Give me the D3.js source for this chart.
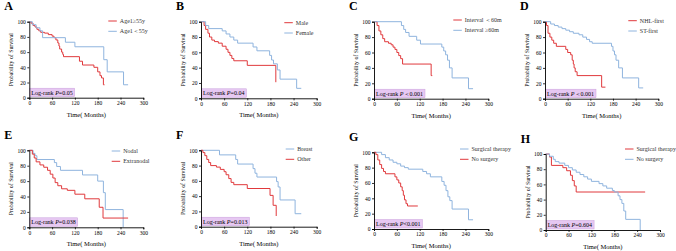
<!DOCTYPE html>
<html>
<head>
<meta charset="utf-8">
<script src="https://cdn.jsdelivr.net/npm/d3@7"></script>
<style>
  body { margin: 0; background: #fff; }
  svg { font-family: "Liberation Serif", "DejaVu Serif", serif; }
</style>
</head>
<body>
<svg id="km" width="676" height="251"></svg>
<script>
// ---- data (time in months, survival in %) ----
var xTicks = [0, 60, 120, 180, 240, 300],
    yTicks = [0, 20, 40, 60, 80, 100];

var ageOld = [[0,100],[5,98],[10,95],[15,93],[20,90],[25,88],[30,86],[40,85],[50,83],[60,81],[65,79],[70,76],[75,72],[78,68],[80,64],[85,60],[88,57],[90,54],[132,48],[140,43],[170,40],[180,34],[186,29],[190,26],[195,17],[198,17]];
var ageYoung = [[0,100],[8,96],[18,92],[28,88],[35,79],[95,73],[120,67],[196,50],[205,34],[248,17],[260,17]];

var male = [[0,100],[8,95],[12,90],[18,85],[22,80],[28,76],[35,74],[45,72],[55,68],[65,64],[70,60],[75,56],[80,52],[85,49],[120,43],[194,21]];
var female = [[0,100],[12,95],[20,91],[55,88],[65,84],[75,80],[85,76],[95,72],[135,67],[145,62],[178,56],[183,50],[188,45],[198,37],[205,25],[248,13],[260,13]];

var intShort = [[0,100],[8,95],[13,88],[18,83],[23,78],[28,74],[38,72],[45,70],[50,67],[55,64],[60,60],[65,56],[70,52],[75,45],[150,30],[153,30]];
var intLong = [[0,100],[72,95],[78,90],[83,86],[92,81],[112,76],[122,71],[178,67],[183,62],[188,57],[193,50],[198,40],[205,27],[248,13],[260,13]];

var nhlFirst = [[0,100],[4,95],[8,85],[13,80],[18,76],[23,72],[30,68],[55,64],[60,60],[68,57],[72,50],[75,45],[77,40],[80,35],[85,30],[150,15],[160,15]];
var stFirst = [[0,100],[15,97],[25,95],[35,93],[45,91],[55,89],[65,87],[75,85],[90,83],[100,80],[110,77],[118,74],[125,72],[176,68],[180,62],[184,57],[188,50],[195,40],[205,27],[248,14],[260,14]];

var nodal = [[0,100],[10,96],[15,93],[20,88],[66,84],[72,79],[82,74],[140,68],[180,60],[195,45],[200,23],[247,0]];
var extranodal = [[0,100],[8,95],[13,90],[18,85],[28,81],[38,78],[48,74],[55,69],[62,64],[68,58],[75,54],[85,50],[100,48],[120,43],[146,37],[184,26],[194,12],[260,12]];

var breast = [[0,100],[48,94],[90,88],[95,82],[135,76],[140,70],[145,65],[196,59],[200,52],[205,35],[244,17],[260,17]];
var other = [[0,100],[5,97],[10,93],[15,88],[20,84],[25,80],[40,78],[50,75],[60,72],[65,68],[72,63],[78,58],[85,55],[120,50],[179,41],[187,28],[195,14]];

var surgG = [[0,100],[20,97],[30,93],[40,90],[50,87],[60,85],[70,82],[80,80],[90,78],[128,75],[138,72],[148,68],[178,62],[184,57],[189,50],[194,42],[199,37],[205,26],[248,12],[260,12]];
var noSurgG = [[0,100],[5,97],[10,90],[15,84],[20,79],[25,75],[30,72],[55,68],[60,64],[65,60],[70,55],[74,50],[77,44],[80,38],[84,33],[88,30],[115,30]];

var surgH = [[0,100],[10,96],[15,85],[45,82],[55,78],[65,72],[70,65],[75,58],[80,50],[261,50]];
var noSurgH = [[0,100],[10,97],[20,93],[25,90],[35,88],[50,85],[60,82],[70,79],[80,76],[90,73],[100,70],[110,67],[120,64],[140,61],[150,58],[160,55],[175,52],[180,50],[190,45],[195,40],[200,35],[205,25],[210,14],[245,14],[248,0]];

var red = "#e0393c", blue = "#8fb4de";

// panel layout: plot box (x0 -> 0 months, x1 -> 300 months, yt -> 100%, yb -> 0%)
var panels = [
  {tag: "A", x0: 29.3, x1: 143.3, yt: 21.7, yb: 97.7, legX: 79, legY: -0.7,
   series: [{name: "Age1≥55y", data: ageOld, color: red}, {name: "Age1＜55y", data: ageYoung, color: blue}],
   p: "=0.05"},
  {tag: "B", x0: 201, x1: 316.7, yt: 21.7, yb: 98.3, legX: 83.3, legY: 1,
   series: [{name: "Male", data: male, color: red}, {name: "Female", data: female, color: blue}],
   p: "=0.04"},
  {tag: "C", x0: 374, x1: 488.3, yt: 21.7, yb: 98.7, legX: 79.3, legY: -1.7,
   series: [{name: "Interval ＜60m", data: intShort, color: red}, {name: "Interval ≥60m", data: intLong, color: blue}],
   p: "＜0.001"},
  {tag: "D", x0: 545, x1: 658.3, yt: 21.7, yb: 98.7, legX: 83.3, legY: -1,
   series: [{name: "NHL-first", data: nhlFirst, color: red}, {name: "ST-first", data: stFirst, color: blue}],
   p: "＜0.001"},
  {tag: "E", x0: 29.3, x1: 143.3, yt: 150.3, yb: 227.3, legX: 82.4, legY: 0.7,
   series: [{name: "Nodal", data: nodal, color: blue}, {name: "Extranodal", data: extranodal, color: red}],
   p: "=0.038"},
  {tag: "F", x0: 201, x1: 316.7, yt: 150.3, yb: 226.7, legX: 84.7, legY: -1.3,
   series: [{name: "Breast", data: breast, color: blue}, {name: "Other", data: other, color: red}],
   p: "=0.013"},
  {tag: "G", x0: 374, x1: 488.3, yt: 152.3, yb: 229, legX: 86, legY: -3.3,
   series: [{name: "Surgical therapy", data: surgG, color: blue}, {name: "No surgery", data: noSurgG, color: red}],
   p: "<0.001"},
  {tag: "H", x0: 545.7, x1: 660, yt: 154, yb: 230, legX: 79.3, legY: -5,
   series: [{name: "Surgical therapy", data: surgH, color: red}, {name: "No surgery", data: noSurgH, color: blue}],
   p: "=0.604"}
];

var svg = d3.select("#km");

panels.forEach(function(pn) {
  var x = d3.scaleLinear().domain([0, 300]).range([pn.x0, pn.x1]),
      y = d3.scaleLinear().domain([0, 100]).range([pn.yb, pn.yt]);
  var g = svg.append("g");

  // panel letter
  g.append("text")
    .attr("x", pn.x0 - 25)
    .attr("y", pn.yt - 11.5)
    .style("font-size", "12px")
    .style("font-weight", "bold")
    .text(pn.tag);

  // log-rank box (drawn first so curves sit on top)
  var lr = g.append("g");
  var lrText = lr.append("text")
    .attr("x", pn.x0 + 2)
    .attr("y", pn.yb - 3)
    .style("font-size", "6px");
  lrText.append("tspan").text("Log-rank ");
  lrText.append("tspan").style("font-style", "italic").text("P");
  lrText.append("tspan").text(pn.p);
  var bb = lrText.node().getBBox();
  lr.insert("rect", "text")
    .attr("x", pn.x0 + 0.5)
    .attr("y", pn.yb - 9.5)
    .attr("width", bb.width + 3.5)
    .attr("height", 8.5)
    .attr("fill", "#e6c8f2")
    .attr("stroke", "#c9a0dc")
    .attr("stroke-width", 0.5);

  // curves
  var line = d3.line()
    .curve(d3.curveStepAfter)
    .x(function(d) { return x(d[0]); })
    .y(function(d) { return y(d[1]); });
  pn.series.forEach(function(s) {
    g.append("path")
      .datum(s.data)
      .attr("fill", "none")
      .attr("stroke", s.color)
      .attr("stroke-width", 1)
      .attr("d", line);
  });

  // axes
  var ax = g.append("g")
    .attr("transform", "translate(0," + pn.yb + ")")
    .call(d3.axisBottom(x).tickValues(xTicks).tickSize(2).tickPadding(1.5));
  var ay = g.append("g")
    .attr("transform", "translate(" + pn.x0 + ",0)")
    .call(d3.axisLeft(y).tickValues(yTicks).tickSize(2).tickPadding(1.5));
  [ax, ay].forEach(function(a) {
    a.select(".domain").attr("stroke", "#000").attr("stroke-width", 0.9);
    a.selectAll(".tick line").attr("stroke", "#000").attr("stroke-width", 0.8);
    a.selectAll(".tick text")
      .attr("fill", "#000")
      .style("font-size", "5.5px")
      .style("font-family", "Liberation Serif, serif");
  });

  // axis titles
  g.append("text")
    .attr("x", (pn.x0 + pn.x1) / 2)
    .attr("y", pn.yb + 19)
    .attr("text-anchor", "middle")
    .style("font-size", "6.5px")
    .text("Time( Months)");
  g.append("text")
    .attr("transform", "translate(" + (pn.x0 - 16) + "," + ((pn.yt + pn.yb) / 2) + ") rotate(-90)")
    .attr("text-anchor", "middle")
    .style("font-size", "5.8px")
    .text("Probability of Survival");

  // legend
  var leg = g.append("g")
    .attr("transform", "translate(" + (pn.x0 + pn.legX) + "," + (pn.yt + pn.legY) + ")");
  pn.series.forEach(function(s, i) {
    leg.append("line")
      .attr("x1", 0).attr("x2", 8.5)
      .attr("y1", i * 10.3).attr("y2", i * 10.3)
      .attr("stroke", s.color)
      .attr("stroke-width", 1);
    leg.append("text")
      .attr("x", 11.5)
      .attr("y", i * 10.3 + 2)
      .style("font-size", "6px")
      .attr("fill", "#333")
      .text(s.name);
  });
});
</script>
</body>
</html>
